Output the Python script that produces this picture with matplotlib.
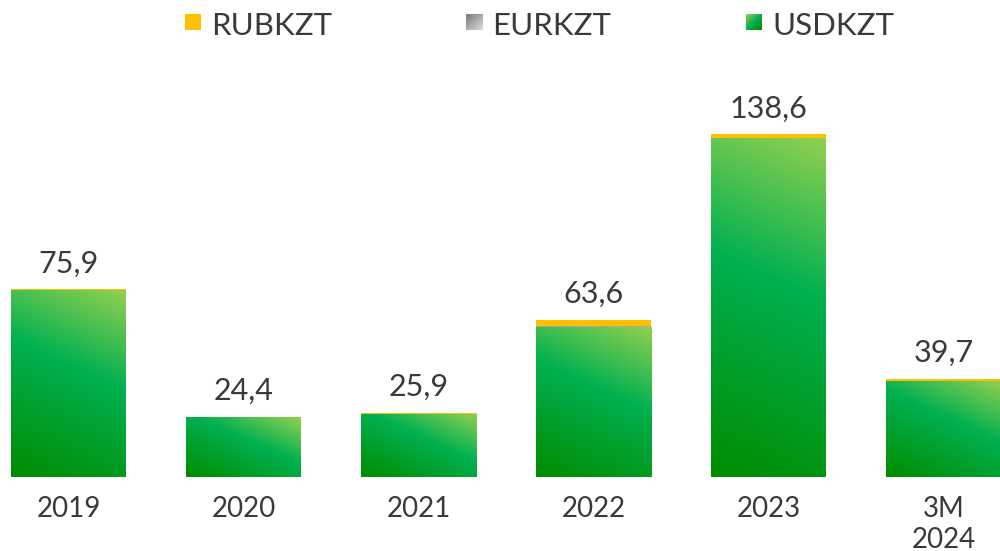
import numpy as np
import matplotlib
matplotlib.use("Agg")
import matplotlib.pyplot as plt
from matplotlib.colors import LinearSegmentedColormap

plt.rcParams['font.family'] = ['Lato', 'DejaVu Sans']

# Volumes by currency pair
periods = ['2019', '2020', '2021', '2022', '2023', '3M\n2024']
usdkzt = [75.5, 24.1, 25.5, 60.6, 136.8, 38.8]
eurkzt = [0.0, 0.3, 0.0, 0.5, 0.2, 0.0]
rubkzt = [0.4, 0.0, 0.4, 2.5, 1.6, 0.9]
series_names = ['RUBKZT', 'EURKZT', 'USDKZT']

W, H = 1000, 551
fig = plt.figure(figsize=(W / 100, H / 100), dpi=100)
ax = fig.add_axes([0, 0, 1, 1])
ax.set_axis_off()

# scale: 175 px between bar centres, 2.475 px per unit
px_x = 175.0
px_y = 2.475
x0_px = 68.5
base_px = 477.0

green_cmap = LinearSegmentedColormap.from_list(
    'grn', [(0.0, '#008c00'), (0.58, '#00b050'), (1.0, '#92d050')])

bar_w = 115 / px_x
x = np.arange(len(periods))
text_col = '#3a3a3a'
txt_kw = dict(color=text_col, fontweight='normal')

for i in range(len(periods)):
    xl = x[i] - bar_w / 2
    xr = x[i] + bar_w / 2
    h = usdkzt[i]
    # diagonal gradient fill for the USD segment
    wpx = int(round(bar_w * px_x))
    hpx = max(int(round(h * px_y)), 2)
    u = np.linspace(0, wpx, wpx)[None, :]
    v = np.linspace(hpx, 0, hpx)[:, None]
    slope = 0.45
    p = v + slope * u
    t = p / (hpx + slope * wpx)
    ax.imshow(t, cmap=green_cmap, vmin=0, vmax=1, extent=(xl, xr, 0, h),
              aspect='auto', interpolation='bilinear', zorder=2)
    bottom = h
    if eurkzt[i] > 0:
        ax.bar(x[i], eurkzt[i], bottom=bottom, width=bar_w, color='#a6a6a6',
               linewidth=0, zorder=3)
        bottom += eurkzt[i]
    if rubkzt[i] > 0:
        ax.bar(x[i], rubkzt[i], bottom=bottom, width=bar_w, color='#ffc000',
               linewidth=0, zorder=3)
        bottom += rubkzt[i]
    total = usdkzt[i] + eurkzt[i] + rubkzt[i]
    ax.annotate(f"{total:.1f}".replace('.', ','), (x[i], total),
                xytext=(0, 12), textcoords='offset points',
                ha='center', va='baseline', fontsize=22, **txt_kw)
    # period label under the bar
    lines = periods[i].split('\n')
    for k, line in enumerate(lines):
        ybase = 517 + 31 * k
        ax.text(x[i], (base_px - ybase) / px_y, line, ha='center', va='baseline',
                fontsize=20, **txt_kw)

ax.set_xlim(-x0_px / px_x, (W - x0_px) / px_x)
ax.set_ylim(-(H - base_px) / px_y, base_px / px_y)

# legend drawn as small gradient squares with labels
sq = 16
legend_x = [185, 466, 746]
sq_top = 14
grad_u = np.linspace(0, 1, 32)[None, :]
grad_v = np.linspace(0, 1, 32)[:, None]
diag = (grad_u + grad_v) / 2
gray_cmap = LinearSegmentedColormap.from_list('gry', ['#7a7a7a', '#dcdcdc'])
leg_green = LinearSegmentedColormap.from_list('lg', ['#92d050', '#00b050', '#008c00'])
for j, name in enumerate(series_names):
    lx = legend_x[j]
    sax = fig.add_axes([lx / W, 1 - (sq_top + sq) / H, sq / W, sq / H])
    sax.set_axis_off()
    if j == 0:
        sax.imshow(np.tile(np.array([1.0, 0.753, 0.0]), (32, 32, 1)), aspect='auto')
    elif j == 1:
        sax.imshow(diag, cmap=gray_cmap, aspect='auto', interpolation='bilinear')
    else:
        sax.imshow(diag, cmap=leg_green, aspect='auto', interpolation='bilinear')
    fig.text((lx + 26) / W, 1 - 35 / H, name, ha='left', va='baseline',
             fontsize=22.5, **txt_kw)

fig.savefig('out.png', dpi=100)
